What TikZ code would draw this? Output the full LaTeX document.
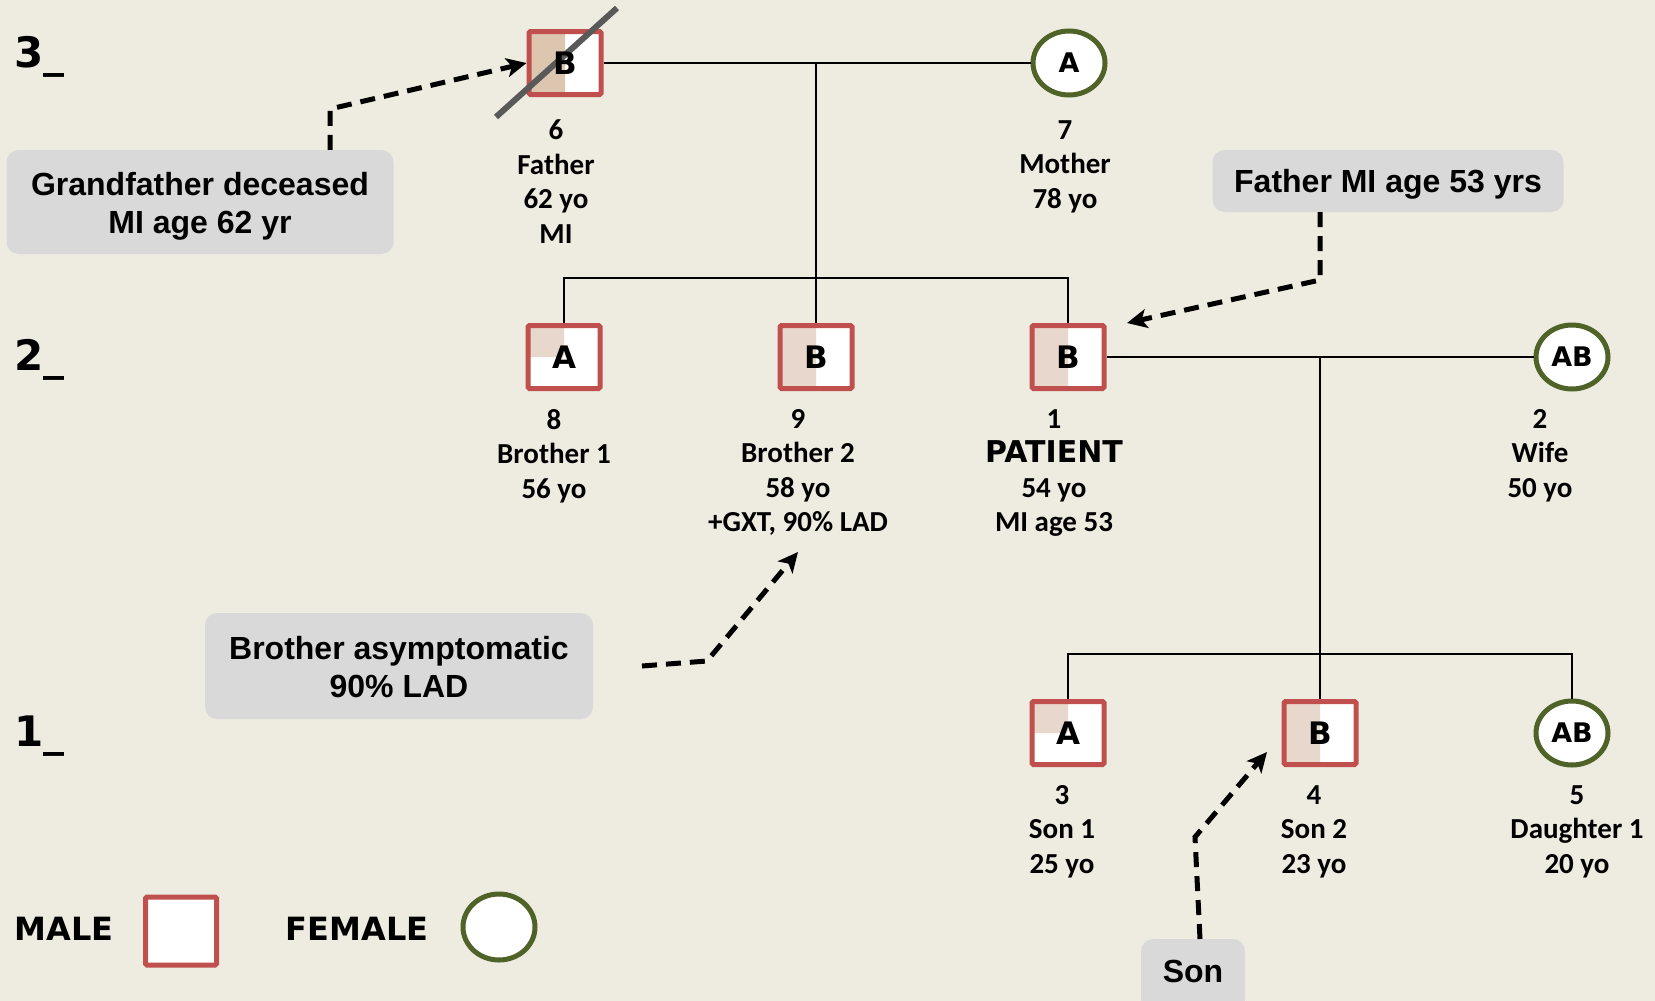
\documentclass[tikz,border=0pt]{standalone}
\usepackage{fontspec}
\usetikzlibrary{shapes.geometric,arrows.meta}
\newfontfamily\heavyfam{DejaVu Sans}
\newfontfamily\calibfam{Carlito}
\newfontfamily\arialfam{Liberation Sans}
\definecolor{bg}{HTML}{EEECE1}
\definecolor{mred}{HTML}{C0504D}
\definecolor{fgreen}{HTML}{4F6228}
\definecolor{boxgray}{HTML}{D9D9D9}
\definecolor{shadeG}{HTML}{DCC6B0}
\definecolor{shadeP}{HTML}{E8D7CC}
\definecolor{strike}{HTML}{595959}
\begin{document}
\begin{tikzpicture}[x=1pt,y=-1pt,
 male/.style={rectangle, draw=mred, line width=5pt, fill=white, minimum width=72pt, minimum height=63pt, inner sep=0pt, rounded corners=1.5pt, font=\heavyfam\bfseries\fontsize{31}{31}\selectfont},
 female/.style={ellipse, draw=fgreen, line width=5pt, fill=white, minimum width=72pt, minimum height=64pt, inner sep=0pt, font=\heavyfam\bfseries\fontsize{27}{27}\selectfont},
 half/.style={path picture={\fill[#1] (path picture bounding box.south west) rectangle (path picture bounding box.north);}},
 quarter/.style={path picture={\fill[#1] (path picture bounding box.west) rectangle (path picture bounding box.north);}},
 info/.style={align=center, anchor=north, inner sep=0pt, font=\calibfam\bfseries\fontsize{29}{34.5}\selectfont},
 notebox/.style={fill=boxgray, rounded corners=12pt, inner sep=0pt},
 notetext/.style={align=center, inner sep=0pt, font=\arialfam\bfseries\fontsize{32}{38}\selectfont},
 gen/.style={anchor=west, inner sep=0pt, font=\heavyfam\bfseries\fontsize{42}{42}\selectfont},
 legend/.style={inner sep=0pt, font=\heavyfam\bfseries\fontsize{32}{32}\selectfont},
 link/.style={line width=2pt, black},
 dasharrow/.style={line width=5pt, dash pattern=on 15pt off 9pt, -{Stealth[length=20pt,width=19pt,inset=5pt]}},
]
\fill[bg] (0,0) rectangle (1655,1001);
\useasboundingbox (0,0) rectangle (1655,1001);

% generation labels
\node[gen] (g3) at (14,57) {3\_};
\node[gen] (g2) at (14,360) {2\_};
\node[gen] (g1) at (14,736) {1\_};

% generation 3
\node[male, half=shadeG] (n6) at (565,63) {};
\draw[strike, line width=6pt] (496,117) -- (617,8);
\node[inner sep=0pt, font=\heavyfam\bfseries\fontsize{31}{31}\selectfont] (n6t) at (n6.center) {B};
\node[female] (n7) at (1069,63) {A};

% generation 2
\node[male, quarter=shadeP] (n8) at (564,357) {A};
\node[male, half=shadeP] (n9) at (816,357) {B};
\node[male, half=shadeP] (n1) at (1068,357) {B};
\node[female] (n2) at (1572,357) {AB};

% generation 1
\node[male, quarter=shadeP] (n3) at (1068,733) {A};
\node[male, half=shadeP] (n4) at (1320,733) {B};
\node[female] (n5) at (1572,733) {AB};

% connectors
\coordinate (m1) at (816,63);
\coordinate (sib1) at (816,278);
\draw[link] (n6.east) -- (n7.west);
\draw[link] (m1) -- (sib1) -- (n9.north);
\draw[link] (n8.north) |- (sib1) -| (n1.north);

\coordinate (m2) at (1320,357);
\coordinate (sib2) at (1320,654);
\draw[link] (n1.east) -- (n2.west);
\draw[link] (m2) -- (sib2) -- (n4.north);
\draw[link] (n3.north) |- (sib2) -| (n5.north);

% info labels
\node[info] (i6) at (556,120) {6\\Father\\62 yo\\MI};
\node[info] (i7) at (1065,120) {7\\Mother\\78 yo};
\node[info] (i8) at (554,409) {8\\Brother 1\\56 yo};
\node[info] (i9) at (798,409) {9\\Brother 2\\58 yo\\+GXT, 90\% LAD};
\node[info] (i1) at (1054,409) {1\\{\heavyfam\bfseries\fontsize{30}{34.5}\selectfont PATIENT}\\54 yo\\MI age 53};
\node[info] (i2) at (1540,409) {2\\Wife\\50 yo};
\node[info] (i3) at (1062,785) {3\\Son 1\\25 yo};
\node[info] (i4) at (1314,785) {4\\Son 2\\23 yo};
\node[info] (i5) at (1577,785) {5\\Daughter 1\\20 yo};

% notes
\node[notebox, minimum width=387pt, minimum height=104pt] (gf) at (200,202) {};
\node[notetext] (gft) at (200,206) {Grandfather deceased\\MI age 62 yr};
\node[notebox, minimum width=351pt, minimum height=62pt] (fa) at (1388,181) {};
\node[notetext] (fat) at (1388,184) {Father MI age 53 yrs};
\node[notebox, minimum width=388pt, minimum height=106pt] (br) at (399,666) {};
\node[notetext] (brt) at (399,667) {Brother asymptomatic\\90\% LAD};
\node[notebox, minimum width=104pt, minimum height=72pt, anchor=north] (son) at (1193,939) {};
\node[notetext] (sont) at (1193,971) {Son};

% annotation arrows
\coordinate (c1) at (330,109);
\draw[dasharrow] (gf.north -| c1) -- (c1) -- (n6.west);
\coordinate (c2) at (1320,280);
\coordinate (t2) at (1127,323);
\draw[dasharrow] (fa.south -| c2) -- (c2) -- (t2);
\coordinate (b0) at (642,666);
\coordinate (c3) at (707,661);
\coordinate (t3) at (798,552);
\draw[dasharrow] (b0) -- (c3) -- (t3);
\coordinate (c4) at (1195,837);
\coordinate (t4) at (1267,752);
\draw[dasharrow] (son.north -| 1200,0) -- (c4) -- (t4);

% legend
\node[legend] (lm) at (64,929) {MALE};
\node[male, minimum width=71pt, minimum height=68pt] (lsq) at (181,931) {};
\node[legend] (lf) at (357,929) {FEMALE};
\node[female, minimum width=72pt, minimum height=66pt] (lci) at (499,927) {};
\end{tikzpicture}
\end{document}
